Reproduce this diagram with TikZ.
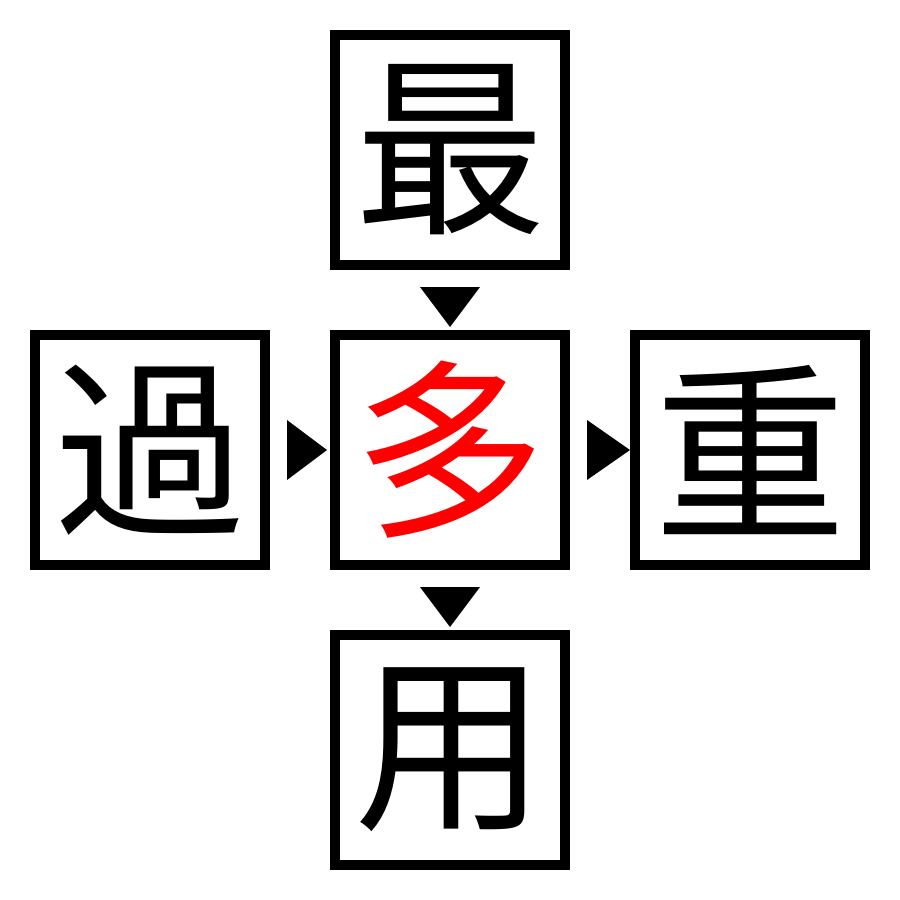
\documentclass[tikz,border=0pt]{standalone}
\usepackage{fontspec}
\newfontfamily\cjk{Noto Sans CJK JP}
\usetikzlibrary{calc}
\begin{document}
\begin{tikzpicture}[x=1pt,y=-1pt,
  kbox/.style={draw=black,line width=10pt,minimum size=230pt,inner sep=0pt,
    font=\cjk\fontsize{192}{192}\selectfont,text=black},
  tri/.style={fill=black}]
\useasboundingbox (0,0) rectangle (900,900);
\node[kbox] (top) at (450,150) {最};
\node[kbox,text=red] (mid) at (450,450) {多};
\node[kbox] (left) at (150,450) {過};
\node[kbox] (right) at (750,450) {重};
\node[kbox] (bot) at (450,750) {用};
% down triangles
\fill[tri] ($(top.south)+(-30,17)$) -- ($(top.south)+(30,17)$) -- ($(top.south)+(0,57)$) -- cycle;
\fill[tri] ($(mid.south)+(-30,17)$) -- ($(mid.south)+(30,17)$) -- ($(mid.south)+(0,57)$) -- cycle;
% right triangles
\fill[tri] ($(left.east)+(17,-30)$) -- ($(left.east)+(17,30)$) -- ($(left.east)+(57,0)$) -- cycle;
\fill[tri] ($(mid.east)+(17,-30)$) -- ($(mid.east)+(17,30)$) -- ($(mid.east)+(60,0)$) -- cycle;
\end{tikzpicture}
\end{document}
